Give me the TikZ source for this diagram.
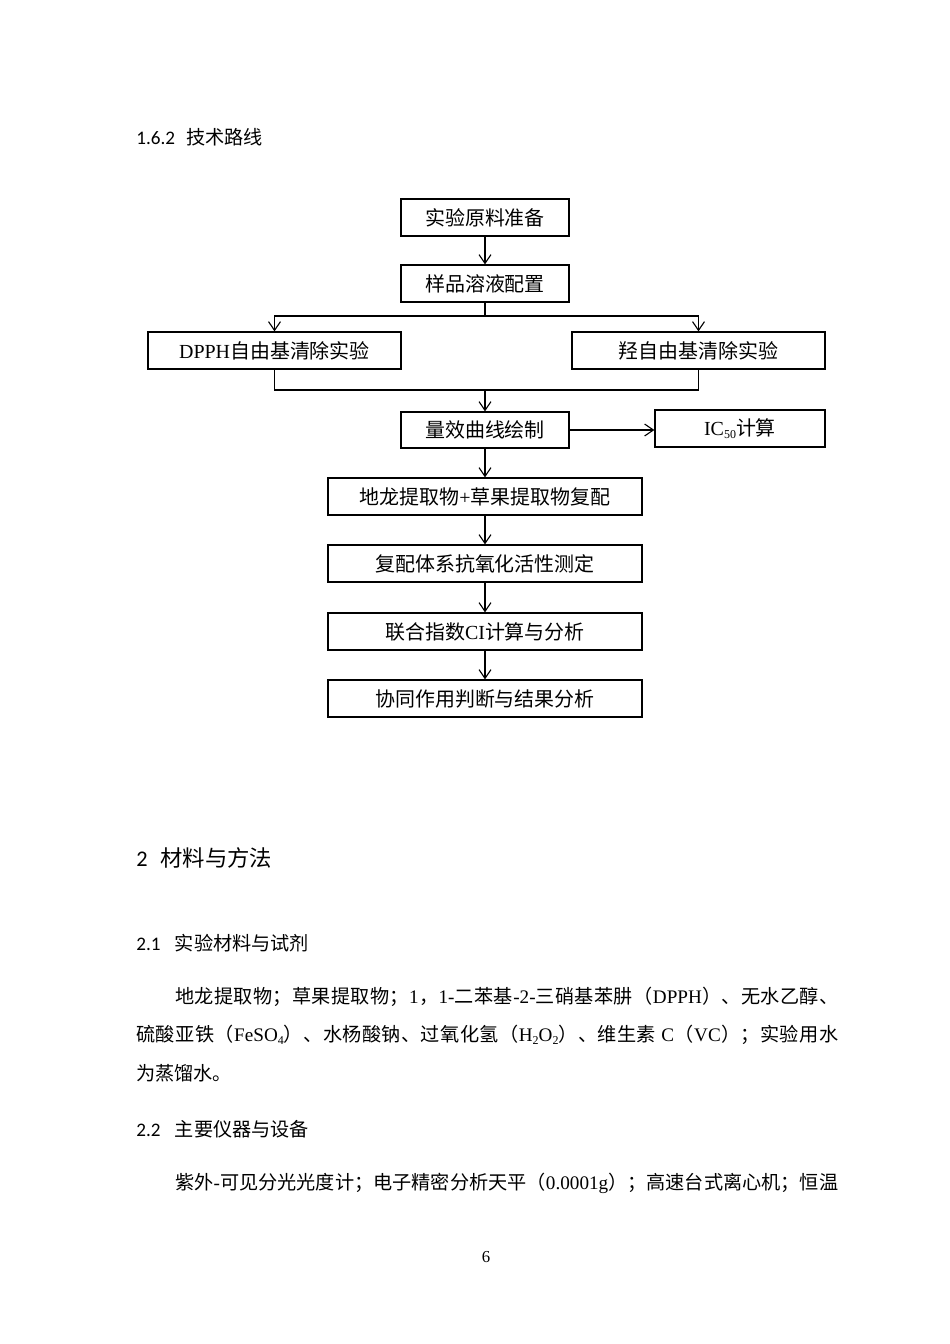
\documentclass[tikz,border=0pt]{standalone}
\usepackage{fontspec}
\usetikzlibrary{arrows.meta}
\setmainfont{Liberation Serif}
\newfontfamily\zhfont{Noto Sans CJK SC}
\newfontfamily\hdfont{Carlito}
\newcommand\latfont{\rmfamily}
\newcommand\subs[1]{\raisebox{-.35ex}{\fontsize{7.5}{8}\selectfont #1}}
\newdimen\pxu \pxu=0.6263pt
% CJK characters get the CJK font
\XeTeXinterchartokenstate=1
\newXeTeXintercharclass\cjkcls
\newcount\cjkcnt
\cjkcnt="3000
\loop
  \XeTeXcharclass\cjkcnt=\cjkcls
  \advance\cjkcnt by 1
\ifnum\cjkcnt<"A000 \repeat
\cjkcnt="FF00
\loop
  \XeTeXcharclass\cjkcnt=\cjkcls
  \advance\cjkcnt by 1
\ifnum\cjkcnt<"FFF0 \repeat
\XeTeXinterchartoks 0 \cjkcls = {\hskip 0pt plus 1pt\zhfont}
\XeTeXinterchartoks 4095 \cjkcls = {\zhfont}
\XeTeXinterchartoks \cjkcls 0 = {\hskip 0pt plus 1pt\latfont}
\XeTeXinterchartoks \cjkcls 4095 = {\latfont}
\XeTeXinterchartoks \cjkcls \cjkcls = {\hskip 0pt plus 1pt}

\tikzstyle{stepbox} = [draw, line width=0.8pt, minimum width=168\pxu, minimum height=37\pxu, inner sep=0pt, font=\fontsize{12.5}{15}\selectfont]
\tikzstyle{flow} = [line width=0.7pt, -{Straight Barb[length=5.5pt,width=7.5pt]}]
\tikzstyle{head} = [anchor=west, inner sep=0pt, font=\let\latfont\hdfont\hdfont\fontsize{12}{14}\selectfont]
\tikzstyle{body} = [anchor=west, inner sep=0pt, font=\fontsize{12}{14}\selectfont]

\begin{document}
\begin{tikzpicture}[x=0.6263pt,y=-0.6263pt]
\useasboundingbox (0,0) rectangle (950,1344);

\node[head] (h162) at (136,137) {1.6.2\hspace{7pt}技术路线};

% flow chart
\node[stepbox] (prep) at (485,217.5) {实验原料准备};
\node[stepbox] (sol) at (485,283.5) {样品溶液配置};
\node[stepbox, minimum width=253\pxu] (dpph) at (274.5,350.5) {DPPH自由基清除实验};
\node[stepbox, minimum width=253\pxu] (hydro) at (698.5,350.5) {羟自由基清除实验};
\node[stepbox, minimum height=36\pxu] (curve) at (485,430) {量效曲线绘制};
\node[stepbox, minimum width=170\pxu] (ic) at (740,428.5) {IC\subs{50}计算};
\node[stepbox, minimum width=314\pxu] (mix) at (485,496.5) {地龙提取物+草果提取物复配};
\node[stepbox, minimum width=314\pxu] (act) at (485,563.5) {复配体系抗氧化活性测定};
\node[stepbox, minimum width=314\pxu] (ci) at (485,631.5) {联合指数CI计算与分析};
\node[stepbox, minimum width=314\pxu] (syn) at (485,698.5) {协同作用判断与结果分析};

\coordinate (split) at (485,316);
\coordinate (merge) at (485,390);

\draw[flow] (prep) -- (sol);
\draw[line width=0.7pt] (sol) -- (split);
\draw[flow] (split) -| (dpph);
\draw[flow] (split) -| (hydro);
\draw[line width=0.7pt] (dpph) |- (merge) -| (hydro);
\draw[flow] (merge) -- (curve);
\draw[flow] (curve.east) -- (curve.east -| ic.west);
\draw[flow] (curve) -- (mix);
\draw[flow] (mix) -- (act);
\draw[flow] (act) -- (ci);
\draw[flow] (ci) -- (syn);

% text below
\node[head, font=\let\latfont\hdfont\hdfont\fontsize{14}{16}\selectfont] (h2) at (136,858) {2\hspace{8pt}材料与方法};
\node[head] (h21) at (136,943) {2.1\hspace{9pt}实验材料与试剂};
\node[body] (l1) at (175,997) {\hbox to 663\pxu{地龙提取物；草果提取物；1，1-二苯基-2-三硝基苯肼（DPPH）、无水乙醇、}};
\node[body] (l2) at (136,1035) {\hbox to 702\pxu{硫酸亚铁（FeSO\subs{4}）、水杨酸钠、过氧化氢（H\subs{2}O\subs{2}）、维生素 C（VC）；实验用水}};
\node[body] (l3) at (136,1073) {为蒸馏水。};
\node[head] (h22) at (136,1129) {2.2\hspace{9pt}主要仪器与设备};
\node[body] (l4) at (175,1183) {\hbox to 663\pxu{紫外-可见分光光度计；电子精密分析天平（0.0001g）；高速台式离心机；恒温}};
\node[inner sep=0pt, font=\fontsize{10.5}{12}\selectfont] (pg) at (486,1257) {6};
\end{tikzpicture}
\end{document}
